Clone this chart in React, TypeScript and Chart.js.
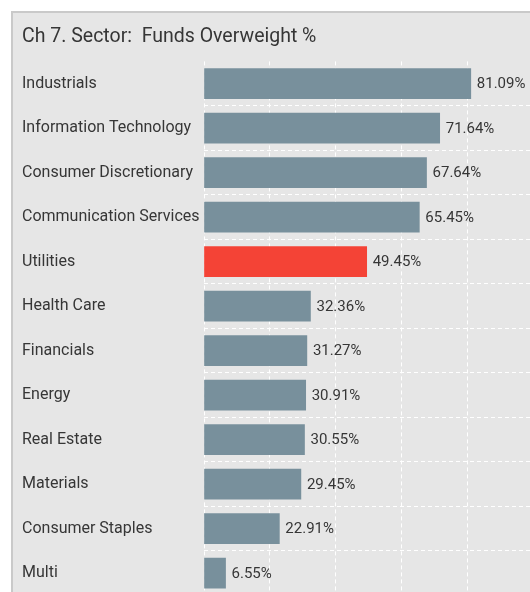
import React, { useEffect, useRef } from "react";
import { Chart, registerables } from "chart.js";

Chart.register(...registerables);

const categories = [
  "Industrials",
  "Information Technology",
  "Consumer Discretionary",
  "Communication Services",
  "Utilities",
  "Health Care",
  "Financials",
  "Energy",
  "Real Estate",
  "Materials",
  "Consumer Staples",
  "Multi",
];
const values = [81.09, 71.64, 67.64, 65.45, 49.45, 32.36, 31.27, 30.91, 30.55, 29.45, 22.91, 6.55];
const highlighted = ["Utilities"];
const title = "Ch 7. Sector:  Funds Overweight %";

const FONT = "Roboto, 'Noto Sans', sans-serif";
const TEXT = "#363636";
const BAR = "#78909c";
const RED = "#f44336";

const valueLabels = {
  id: "valueLabels",
  afterDatasetsDraw(chart: any) {
    const ctx = chart.ctx;
    const meta = chart.getDatasetMeta(0);
    ctx.save();
    ctx.font = `15px ${FONT}`;
    ctx.fillStyle = TEXT;
    ctx.textAlign = "left";
    ctx.textBaseline = "middle";
    meta.data.forEach((bar: any, i: number) => {
      ctx.fillText(values[i].toFixed(2) + "%", bar.x + 6, bar.y + 1);
    });
    ctx.restore();
  },
};

export default function App() {
  const ref = useRef<HTMLCanvasElement>(null);
  useEffect(() => {
    const chart = new Chart(ref.current!, {
      type: "bar",
      data: {
        labels: categories,
        datasets: [
          {
            data: values,
            backgroundColor: categories.map((c) => (highlighted.includes(c) ? RED : BAR)),
            barThickness: 30,
          },
        ],
      },
      options: {
        indexAxis: "y",
        animation: false,
        responsive: false,
        layout: { padding: { left: 9, right: 25, top: 0, bottom: 7 } },
        plugins: {
          legend: { display: false },
          tooltip: { enabled: false },
          title: {
            display: true,
            text: title,
            align: "start",
            color: TEXT,
            font: { family: FONT, size: 19.5, weight: "normal" },
            padding: { top: 12, bottom: 13 },
          },
        },
        scales: {
          x: {
            min: 0,
            max: 100,
            ticks: { display: false, stepSize: 20 },
            border: { display: false, dash: [4, 3] },
            grid: { color: "#ffffff", lineWidth: 1, drawTicks: false },
            afterFit: (s: any) => {
              s.height = 0;
            },
          },
          y: {
            ticks: {
              crossAlign: "far",
              color: TEXT,
              font: { family: FONT, size: 16 },
            },
            border: { display: false, dash: [4, 3] },
            grid: {
              color: (c: any) => (c.index === 0 ? "rgba(0,0,0,0)" : "#ffffff"),
              lineWidth: 1,
              drawTicks: false,
            },
            afterFit: (s: any) => {
              s.width = 182;
            },
          },
        },
      },
      plugins: [valueLabels],
    });
    return () => chart.destroy();
  }, []);

  return (
    <div
      style={{
        position: "fixed",
        left: 0,
        top: 0,
        width: 530,
        height: 592,
        overflow: "hidden",
        background: "#ffffff",
      }}
    >
      <div
        style={{
          position: "absolute",
          left: 11,
          top: 11,
          width: 560,
          height: 620,
          border: "2px solid #c9c9c9",
          background: "#e6e6e6",
        }}
      >
        <canvas ref={ref} width={545} height={595} style={{ display: "block" }} />
      </div>
    </div>
  );
}
